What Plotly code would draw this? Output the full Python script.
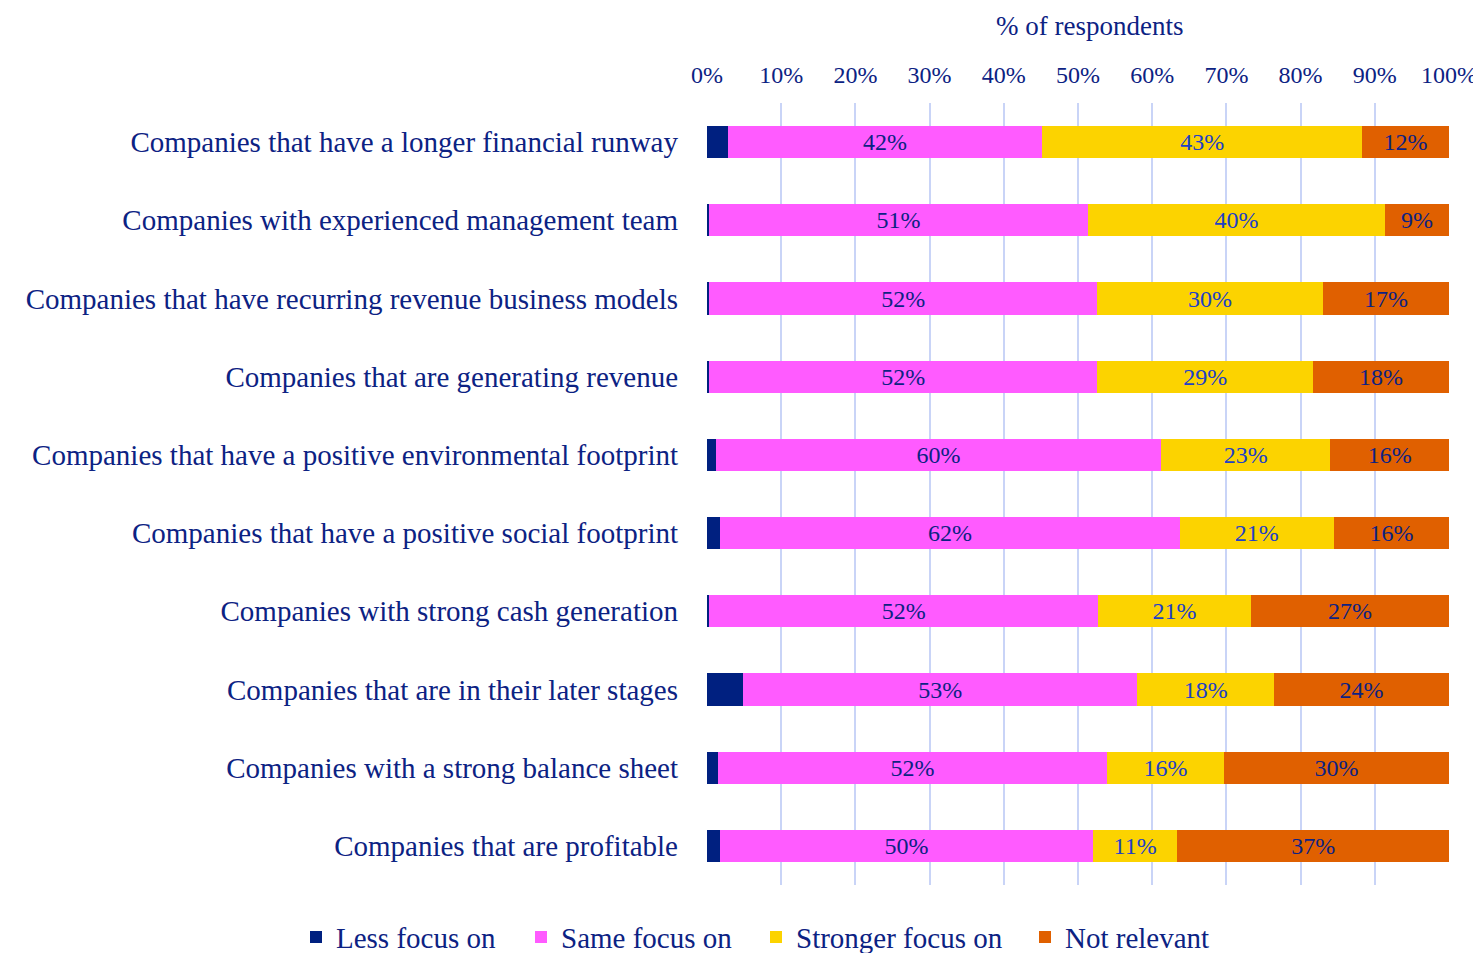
import plotly.graph_objects as go

categories = [
    "Companies that have a longer financial runway",
    "Companies with experienced management team",
    "Companies that have recurring revenue business models",
    "Companies that are generating revenue",
    "Companies that have a positive environmental footprint",
    "Companies that have a positive social footprint",
    "Companies with strong cash generation",
    "Companies that are in their later stages",
    "Companies with a strong balance sheet",
    "Companies that are profitable",
]
less_focus = [2.8, 0.3, 0.3, 0.3, 1.2, 1.8, 0.3, 4.9, 1.5, 1.8]
same_focus = [42.4, 51.0, 52.3, 52.3, 60.0, 61.9, 52.4, 53.1, 52.4, 50.2]
stronger_focus = [43.1, 40.1, 30.4, 29.1, 22.8, 20.8, 20.6, 18.4, 15.8, 11.4]
not_relevant = [11.7, 8.6, 17.0, 18.3, 16.0, 15.5, 26.7, 23.6, 30.3, 36.6]
tick_vals = [0, 10, 20, 30, 40, 50, 60, 70, 80, 90, 100]
tick_text = [f"{v}%" for v in tick_vals]

FONT = "Liberation Serif"
NAVY = "#0c2283"

# page x (px) where each legend entry should start
legend_left_px = [296, 521, 756, 1025]

series = [
    ("Less focus on", less_focus, "#002080", None),
    ("Same focus on", same_focus, "#ff5bff", NAVY),
    ("Stronger focus on", stronger_focus, "#fcd300", "#2040c8"),
    ("Not relevant", not_relevant, "#e06000", NAVY),
]

legend_ids = ["legend", "legend2", "legend3", "legend4"]

fig = go.Figure()
for (name, vals, color, tcolor), lid in zip(series, legend_ids):
    if tcolor:
        kw = dict(texttemplate="%{x:.0f}%", textposition="inside",
                  insidetextanchor="middle",
                  textfont=dict(family=FONT, size=24, color=tcolor))
    else:
        kw = dict(textposition="none")
    fig.add_trace(go.Bar(
        y=categories, x=vals, name=name, orientation="h",
        marker=dict(color=color, line=dict(width=0)),
        hoverinfo="skip", legend=lid, showlegend=True, **kw))

legend_layout = {}
for lid, px in zip(legend_ids, legend_left_px):
    legend_layout[lid] = dict(
        orientation="h", x=(px - 707) / 742, xanchor="left", y=-0.034, yanchor="top",
        font=dict(family=FONT, size=29, color=NAVY),
        itemwidth=30, bgcolor="rgba(0,0,0,0)", visible=True,
    )

fig.update_layout(
    barmode="stack",
    bargap=0.59,
    showlegend=True,
    width=1481, height=953,
    margin=dict(l=699, r=40, t=95, b=76, autoexpand=False),
    paper_bgcolor="white", plot_bgcolor="white",
    font=dict(family=FONT, color=NAVY),
    uniformtext=dict(minsize=8, mode="show"),
    xaxis=dict(
        side="top", range=[0, 100], tickvals=tick_vals, ticktext=tick_text,
        tickfont=dict(family=FONT, size=24, color=NAVY),
        showgrid=True, gridcolor="#c9d4f7", gridwidth=2,
        zeroline=False, showline=False, ticks="", ticklabelstandoff=14,
        automargin=False,
    ),
    yaxis=dict(
        autorange="reversed", categoryorder="array", categoryarray=categories,
        tickfont=dict(family=FONT, size=29, color=NAVY),
        showgrid=False, zeroline=False, ticks="", ticklabelstandoff=28,
        automargin=False,
    ),
    annotations=[dict(
        text="% of respondents", xref="paper", yref="paper",
        x=(1089 - 707) / 742, y=1 + (95 - 1) / 782, xanchor="center", yanchor="top",
        showarrow=False, font=dict(family=FONT, size=27, color=NAVY),
    )],
    **legend_layout,
)

fig.write_html("out.html")
